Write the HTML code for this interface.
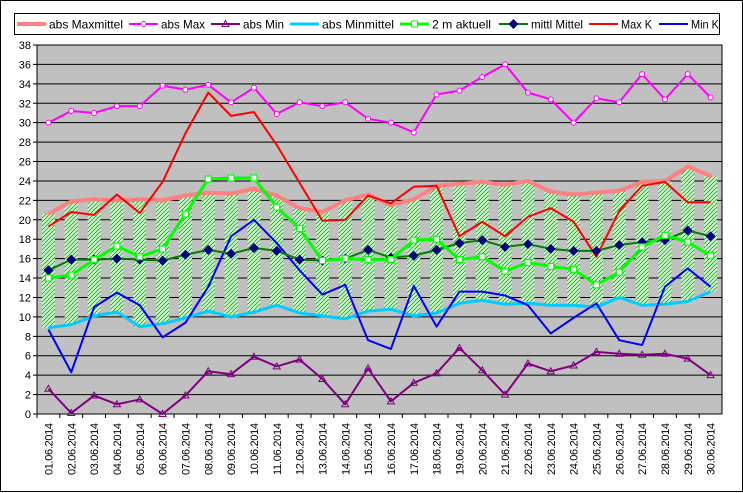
<!DOCTYPE html>
<html><head><meta charset="utf-8"><style>
body{margin:0;background:#fff;}
svg{display:block;font-family:"Liberation Sans",Arial,sans-serif;}
</style></head><body>
<svg id="chart" width="743" height="493" viewBox="0 0 743 493" xmlns="http://www.w3.org/2000/svg">
<defs>
<pattern id="hatch" patternUnits="userSpaceOnUse" width="4" height="4">
<rect width="4" height="4" fill="#ccffcc"/>
<path d="M-1,1 l2,-2 M0,4 l4,-4 M3,5 l2,-2" stroke="#339933" stroke-width="0.9"/>
</pattern>
</defs>
<rect x="0.5" y="0.5" width="742" height="491" fill="#fff" stroke="#000"/>
<g id="plot"></g>
<g id="legend"></g>
</svg>
<script>
const dates = ["01.06.2014","02.06.2014","03.06.2014","04.06.2014","05.06.2014","06.06.2014","07.06.2014","08.06.2014","09.06.2014","10.06.2014","11.06.2014","12.06.2014","13.06.2014","14.06.2014","15.06.2014","16.06.2014","17.06.2014","18.06.2014","19.06.2014","20.06.2014","21.06.2014","22.06.2014","23.06.2014","24.06.2014","25.06.2014","26.06.2014","27.06.2014","28.06.2014","29.06.2014","30.06.2014"];
const absMaxmittel = [20.6,21.9,22.1,22.0,22.1,22.0,22.5,22.8,22.7,23.2,22.5,21.2,20.8,22.0,22.6,21.5,22.1,23.5,23.7,23.9,23.6,24.0,22.9,22.6,22.8,23.0,23.9,24.0,25.5,24.5];
const absMax = [30.0,31.2,31.0,31.7,31.7,33.8,33.4,33.9,32.1,33.6,30.9,32.1,31.7,32.1,30.4,30.0,29.0,32.9,33.3,34.7,36.0,33.1,32.4,30.0,32.5,32.1,35.0,32.4,35.0,32.6];
const absMin = [2.6,0.1,1.9,1.0,1.5,0.0,1.9,4.4,4.1,5.9,4.9,5.6,3.6,1.0,4.7,1.3,3.2,4.2,6.8,4.5,2.0,5.2,4.4,5.0,6.4,6.2,6.1,6.2,5.7,4.0];
const absMinmittel = [8.9,9.2,10.1,10.5,9.0,9.3,9.9,10.6,10.0,10.5,11.2,10.4,10.1,9.8,10.6,10.8,10.1,10.4,11.4,11.7,11.3,11.4,11.2,11.2,11.0,12.0,11.2,11.3,11.6,12.6];
const aktuell = [14.0,14.3,15.9,17.3,16.2,17.0,20.6,24.2,24.3,24.3,21.3,19.1,15.8,16.0,15.9,15.9,17.9,18.0,15.9,16.2,14.7,15.6,15.2,14.9,13.3,14.6,17.2,18.4,17.7,16.3];
const mittel = [14.8,15.9,15.9,16.0,15.9,15.8,16.4,16.9,16.5,17.1,16.8,15.9,15.8,16.0,16.9,16.1,16.3,16.9,17.6,17.9,17.2,17.5,17.0,16.8,16.8,17.4,17.7,17.9,18.9,18.3];
const maxK = [19.3,20.8,20.5,22.6,20.7,23.9,28.9,33.1,30.7,31.1,27.7,23.8,19.9,20.0,22.5,21.7,23.4,23.5,18.3,19.8,18.3,20.3,21.2,19.8,16.2,20.9,23.5,23.9,21.8,21.8];
const minK = [8.7,4.3,11.0,12.5,11.2,7.9,9.4,13.1,18.3,20.0,17.6,14.8,12.3,13.3,7.6,6.7,13.2,9.0,12.6,12.6,12.2,11.2,8.3,9.9,11.4,7.6,7.1,13.1,15.0,13.1];
const yTicks = [0,2,4,6,8,10,12,14,16,18,20,22,24,26,28,30,32,34,36,38];

const NS="http://www.w3.org/2000/svg";
const L=37,R=722,T=45,B=414,YMAX=38;
const cw=(R-L)/dates.length;
const xs=i=>L+cw*(i+0.5);
const ys=v=>B-(v/YMAX)*(B-T);
const plot=document.getElementById('plot');
function mk(tag,attrs,parent){const e=document.createElementNS(NS,tag);for(const k in attrs)e.setAttribute(k,attrs[k]);(parent||plot).appendChild(e);return e;}

const bg=mk('rect',{x:L,y:T,width:R-L,height:B-T,fill:'#c0c0c0'});


yTicks.forEach(v=>{
  const g=mk('line',{x1:33,x2:R,y1:ys(v),y2:ys(v),stroke:'#000','stroke-width':1});
  
  
  const t=mk('text',{x:31,y:ys(v)+4,'text-anchor':'end','font-size':11});
  t.textContent=v;
  
  
});
mk('rect',{x:L,y:T,width:R-L,height:B-T,fill:'none',stroke:'#000'});
dates.forEach((d,i)=>{
  const tk=mk('line',{x1:L+cw*i,x2:L+cw*i,y1:B,y2:B+4,stroke:'#000'});
  
  
  const t=mk('text',{x:0,y:0,'text-anchor':'end','font-size':11,textLength:52,transform:`translate(${xs(i)+4},${B+9}) rotate(-90)`});
  t.textContent=d;
  
  
});
dates.forEach((d,i)=>{
  const b=mk('rect',{x:xs(i)-6.5,y:ys(absMaxmittel[i]),width:13,height:ys(absMinmittel[i])-ys(absMaxmittel[i]),fill:'url(#hatch)'});
  
  
});
function line(arr,color,w,name){
  const p=mk('polyline',{points:arr.map((v,i)=>xs(i)+','+ys(v)).join(' '),fill:'none',stroke:color,'stroke-width':w,'stroke-linejoin':'round'});
  
  
}
function markers(arr,kind,name){
  arr.forEach((v,i)=>{
    const x=xs(i),y=ys(v);let m;
    if(kind==='circle')m=mk('circle',{cx:x,cy:y,r:2.5,fill:'#fff',stroke:'#ff00ff'});
    else if(kind==='tri')m=mk('polygon',{points:`${x},${y-3.5} ${x-3.5},${y+2.5} ${x+3.5},${y+2.5}`,fill:'none',stroke:'#800080'});
    else if(kind==='square')m=mk('rect',{x:x-3,y:y-3,width:6,height:6,fill:'#fff',stroke:'#00ff00','stroke-width':1.2});
    else if(kind==='diamond')m=mk('polygon',{points:`${x},${y-5} ${x+5},${y} ${x},${y+5} ${x-5},${y}`,fill:'#000080'});
    else if(kind==='plus')m=mk('path',{d:`M${x-2.5},${y}h5M${x},${y-2.5}v5`,stroke:'#ff8080'});
    
    
  });
}
line(absMaxmittel,'#ff8080',4,'abs-maxmittel-line');markers(absMaxmittel,'plus','abs-maxmittel-marker');
line(absMinmittel,'#00ccff',3,'abs-minmittel-line');
line(maxK,'#ff0000',2,'max-k-line');
line(minK,'#0000ff',2,'min-k-line');
line(absMax,'#ff00ff',2,'abs-max-line');markers(absMax,'circle','abs-max-marker');
line(absMin,'#800080',2,'abs-min-line');markers(absMin,'tri','abs-min-marker');
line(mittel,'#008000',2,'mittel-line');markers(mittel,'diamond','mittel-marker');
line(aktuell,'#00ff00',3,'aktuell-line');markers(aktuell,'square','aktuell-marker');

const lg=document.getElementById('legend');
mk('rect',{x:14.5,y:13.5,width:705,height:21,fill:'#fff',stroke:'#000'},lg);
const entries=[["abs Maxmittel",17,'#ff8080',4,'plus',74],["abs Max",129,'#ff00ff',2,'circle',44],["abs Min",211,'#800080',2,'tri',41],["abs Minmittel",290,'#00ccff',3,'cyan',72],["2 m aktuell",400,'#00ff00',3,'square',59],["mittl Mittel",499,'#008000',2,'diamond',52],["Max K",589,'#ff0000',2,'',31],["Min K",659,'#0000ff',2,'',28]];
entries.forEach(e=>{
  const g=mk('g',{},lg);
  
  
  mk('line',{x1:e[1],x2:e[1]+29,y1:24,y2:24,stroke:e[2],'stroke-width':e[3]},g);
  const cx=e[1]+14.5;
  if(e[4]==='circle')mk('circle',{cx:cx,cy:24,r:2.5,fill:'#fff',stroke:'#ff00ff'},g);
  if(e[4]==='tri')mk('polygon',{points:`${cx},20.5 ${cx-3.5},26.5 ${cx+3.5},26.5`,fill:'none',stroke:'#800080'},g);
  if(e[4]==='square')mk('rect',{x:cx-3,y:21,width:6,height:6,fill:'#fff',stroke:'#00ff00'},g);
  if(e[4]==='diamond')mk('polygon',{points:`${cx},19 ${cx+5},24 ${cx},29 ${cx-5},24`,fill:'#000080'},g);
  const t=mk('text',{x:e[1]+32,y:28.5,'font-size':12,textLength:e[5],lengthAdjust:'spacingAndGlyphs'},g);
  t.textContent=e[0];
});
</script>
</body></html>
